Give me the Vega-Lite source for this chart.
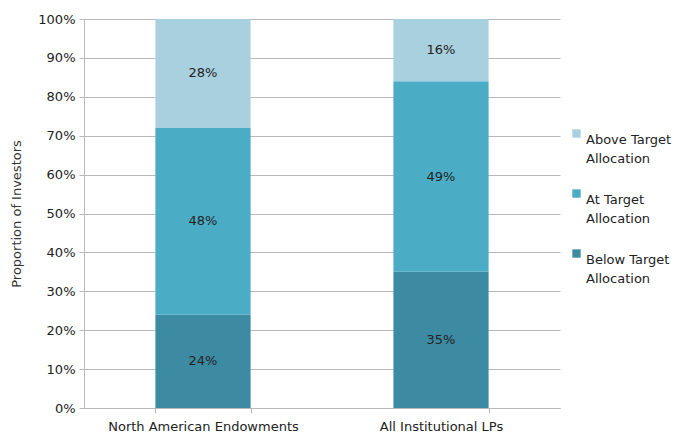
{
  "$schema": "https://vega.github.io/schema/vega-lite/v6.json",
  "width": 476,
  "height": 389,
  "padding": {"left": 84, "top": 19, "right": 133, "bottom": 30},
  "autosize": {"type": "none"},
  "config": {
    "font": "DejaVu Sans",
    "view": {"stroke": null},
    "style": {"guide-label": {"lineHeight": 19}},
    "axis": {"labelFont": "DejaVu Sans", "titleFont": "DejaVu Sans", "labelColor": "#222", "titleColor": "#333", "labelFontSize": 13, "titleFontSize": 13, "titleFontWeight": "normal", "domainColor": "#b8b8b8", "tickColor": "#b8b8b8", "gridColor": "#b8b8b8"}
  },
  "data": {"values": [
    {"group": "North American Endowments", "status": "Below Target Allocation", "value": 0.24, "order": 1},
    {"group": "North American Endowments", "status": "At Target Allocation", "value": 0.48, "order": 2},
    {"group": "North American Endowments", "status": "Above Target Allocation", "value": 0.28, "order": 3},
    {"group": "All Institutional LPs", "status": "Below Target Allocation", "value": 0.35, "order": 1},
    {"group": "All Institutional LPs", "status": "At Target Allocation", "value": 0.49, "order": 2},
    {"group": "All Institutional LPs", "status": "Above Target Allocation", "value": 0.16, "order": 3}
  ]},
  "encoding": {
    "x": {"field": "group", "type": "nominal", "sort": null,
      "scale": {"paddingInner": 0.6, "paddingOuter": 0.3},
      "axis": {"title": null, "labelAngle": 0, "tickBand": "extent", "labelPadding": 7, "tickSize": 5, "grid": false, "labelLimit": 400}},
    "order": {"field": "order", "type": "quantitative"}
  },
  "layer": [
    {
      "mark": {"type": "bar"},
      "encoding": {
        "y": {"field": "value", "type": "quantitative", "stack": "zero",
          "scale": {"domain": [0, 1]},
          "axis": {"title": "Proportion of Investors", "values": [0,0.1,0.2,0.3,0.4,0.5,0.6,0.7,0.8,0.9,1], "format": ".0%", "tickSize": 5, "labelPadding": 4, "titlePadding": 14}},
        "color": {"field": "status", "type": "nominal",
          "scale": {"domain": ["Above Target Allocation", "At Target Allocation", "Below Target Allocation"], "range": ["#A9D0DE", "#4BACC6", "#3D8BA3"]},
          "legend": {"title": null, "orient": "none", "legendX": 486, "legendY": 108, "symbolType": "square", "symbolSize": 70, "symbolStrokeWidth": 0, "labelFontSize": 13, "labelFont": "DejaVu Sans", "labelColor": "#222", "rowPadding": 21, "labelOffset": 3, "labelLimit": 200,
            "labelExpr": "split(replace(datum.label, ' Allocation', '|Allocation'), '|')", "labelBaseline": "top", "symbolOffset": 0}}
      }
    },
    {
      "mark": {"type": "text", "fontSize": 13, "color": "#222", "font": "DejaVu Sans"},
      "encoding": {
        "y": {"field": "value", "type": "quantitative", "stack": "zero", "bandPosition": 0.5,
          "scale": {"domain": [0, 1]},
          "axis": {"title": "Proportion of Investors", "values": [0,0.1,0.2,0.3,0.4,0.5,0.6,0.7,0.8,0.9,1], "format": ".0%", "tickSize": 5, "labelPadding": 4, "titlePadding": 14}},
        "text": {"field": "value", "type": "quantitative", "format": ".0%"},
        "detail": {"field": "status"}
      }
    }
  ]
}
